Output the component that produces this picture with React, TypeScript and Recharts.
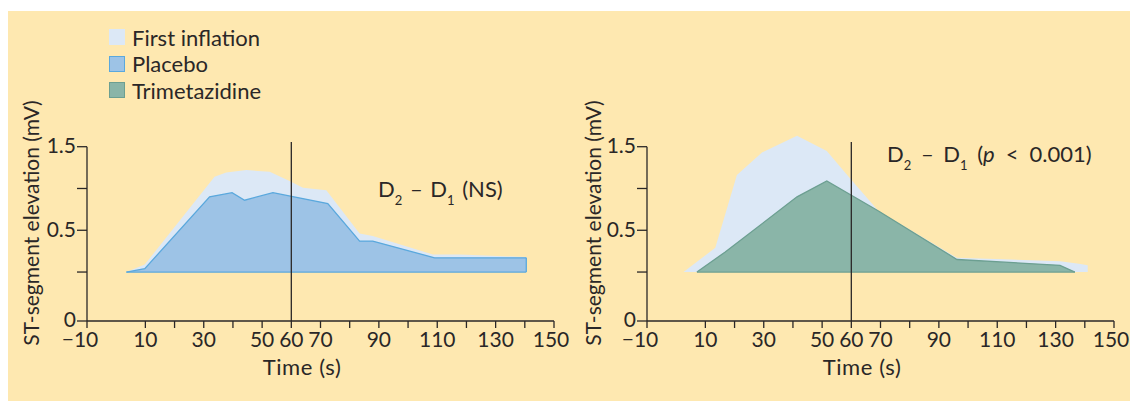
import React from "react";
import {
  ComposedChart,
  Area,
  XAxis,
  YAxis,
  ReferenceLine,
} from "recharts";

// time (s) and ST-segment elevation (mV)
const firstLeftTime = [3.5, 9.8, 33.7, 37.7, 44.6, 52.6, 59.4, 64, 72, 83.4, 87.9, 108.5, 117.6, 140.5];
const firstLeftST = [0, 0.09, 1.14, 1.19, 1.22, 1.2, 1.09, 1.01, 0.98, 0.46, 0.43, 0.21, 0.21, 0.18];

const placeboTime = [3.5, 9.8, 32, 39.7, 44, 53.7, 72.5, 83.4, 87.9, 109.1, 140.5];
const placeboST = [0, 0.04, 0.9, 0.95, 0.86, 0.95, 0.82, 0.37, 0.37, 0.17, 0.17];

const firstRightTime = [2.5, 13.4, 20.8, 29.4, 41.4, 51.6, 59.6, 69.3, 96.2, 131.5, 138, 141];
const firstRightST = [0, 0.29, 1.16, 1.43, 1.63, 1.45, 1.12, 0.73, 0.17, 0.13, 0.1, 0.08];

const trimetazidineTime = [7.1, 16.8, 41.4, 51.6, 69.3, 96.2, 131.5, 136.6];
const trimetazidineST = [0, 0.24, 0.9, 1.09, 0.73, 0.15, 0.08, 0];

const xTicks = [-10, 10, 20, 30, 40, 50, 60, 70, 80, 90, 100, 110, 120, 130, 140, 150];
const xLabels = [-10, 10, 30, 50, 60, 70, 90, 110, 130, 150];
const yBottom = -0.586;
const yTop = 1.7;
const yTicks = [yBottom, 0, 0.5, 1, 1.5];
const yLabels: Record<string, string> = { "0.5": "0.5", "1.5": "1.5" };

const INK = "#2a2727";
const FONT = "Lato, 'Open Sans', sans-serif";
const BG = "#fee8b0";
const FIRST = "#dce8f6";
const PLACEBO = "#9dc3e6";
const PLACEBO_EDGE = "#5aa8dd";
const TMZ = "#8ab5a8";
const TMZ_EDGE = "#6c9f91";

const toRows = (t: number[], v: number[]) => t.map((x, i) => ({ t: x, st: v[i] }));

const XTick = (props: any) => {
  const { x, y, payload } = props;
  const v = payload.value;
  if (!xLabels.includes(v)) return null;
  // the minus hangs left of the tick; the last label sits a little inside the edge
  const shift = v < 0 ? -7 : v === 150 ? -3 : 0;
  return (
    <text x={x} y={y} dy="0.71em" dx={shift} textAnchor="middle" fill={INK} fontSize={21} fontFamily={FONT}>
      {v < 0 ? `\u2212${Math.abs(v)}` : v}
    </text>
  );
};

const yFmt = (v: number) => (v === yBottom ? "0" : yLabels[String(v)] ?? "");

type Panel = {
  back: { t: number; st: number }[];
  front: { t: number; st: number }[];
  fill: string;
  edge: string;
};

function StPanel({ back, front, fill, edge }: Panel) {
  const first = front[0];
  const last = front[front.length - 1];
  return (
    <ComposedChart width={580} height={390} margin={{ top: 119, right: 34, bottom: 40, left: 0 }}>
      <XAxis
        type="number"
        dataKey="t"
        domain={[-10, 150]}
        ticks={xTicks}
        interval={0}
        tick={<XTick />}
        tickSize={7}
        tickMargin={4}
        height={40}
        stroke={INK}
        strokeWidth={1.3}
        allowDataOverflow
      />
      <YAxis
        type="number"
        domain={[yBottom, yTop]}
        ticks={yTicks}
        interval={0}
        tickFormatter={yFmt}
        tickSize={10}
        tickMargin={1}
        width={79}
        axisLine={false}
        stroke={INK}
        strokeWidth={1.3}
        tick={{ fill: INK, fontSize: 21, fontFamily: FONT, dy: -1 }}
        allowDataOverflow
      />
      <Area data={back} dataKey="st" type="linear" fill={FIRST} fillOpacity={1} stroke="none" isAnimationActive={false} />
      <Area data={front} dataKey="st" type="linear" fill={fill} fillOpacity={1} stroke={edge} strokeWidth={1.3} isAnimationActive={false} />
      <ReferenceLine segment={[{ x: first.t, y: 0 }, { x: last.t, y: 0 }]} stroke={edge} strokeWidth={1.3} />
      {last.st > 0 && (
        <ReferenceLine segment={[{ x: last.t, y: 0 }, { x: last.t, y: last.st }]} stroke={edge} strokeWidth={1.3} />
      )}
      <ReferenceLine segment={[{ x: -10, y: yBottom }, { x: -10, y: 1.5 }]} stroke={INK} strokeWidth={1.3} />
      <ReferenceLine segment={[{ x: 60, y: yBottom }, { x: 60, y: 1.555 }]} stroke={INK} strokeWidth={1.3} />
    </ComposedChart>
  );
}

const txt: React.CSSProperties = {
  position: "absolute",
  color: INK,
  fontFamily: FONT,
  fontSize: 21,
  lineHeight: "21px",
  whiteSpace: "nowrap",
};

const note: React.CSSProperties = { ...txt, fontSize: 22, lineHeight: "22px", wordSpacing: 4 };
const sub: React.CSSProperties = { fontSize: 13, position: "relative", top: 8 };

function YTitle({ cx }: { cx: number }) {
  return (
    <div style={{ ...txt, left: cx, top: 212, transform: "translate(-50%, -50%) rotate(-90deg)" }}>
      ST-segment elevation (mV)
    </div>
  );
}

function XTitle({ cx }: { cx: number }) {
  return (
    <div style={{ ...txt, fontSize: 22, letterSpacing: 0.6, left: cx, top: 355, transform: "translate(-50%, -50%)" }}>
      Time (s)
    </div>
  );
}

const legend = [
  { name: "First inflation", fill: FIRST, edge: FIRST },
  { name: "Placebo", fill: PLACEBO, edge: PLACEBO_EDGE },
  { name: "Trimetazidine", fill: TMZ, edge: TMZ_EDGE },
];

export default function App() {
  return (
    <div style={{ position: "absolute", left: 8, top: 11, width: 1122, height: 390, background: BG, overflow: "hidden" }}>
      <div style={{ position: "absolute", left: 0, top: 0 }}>
        <StPanel back={toRows(firstLeftTime, firstLeftST)} front={toRows(placeboTime, placeboST)} fill={PLACEBO} edge={PLACEBO_EDGE} />
      </div>
      <div style={{ position: "absolute", left: 560, top: 0 }}>
        <StPanel back={toRows(firstRightTime, firstRightST)} front={toRows(trimetazidineTime, trimetazidineST)} fill={TMZ} edge={TMZ_EDGE} />
      </div>

      {legend.map((l, i) => (
        <div
          key={l.name}
          style={{ position: "absolute", left: 101, top: 15.5 + i * 26.5, height: 21, display: "flex", alignItems: "center" }}
        >
          <div style={{ width: 14, height: 14, background: l.fill, border: `1px solid ${l.edge}` }} />
          <div style={{ ...txt, fontSize: 22, position: "relative", marginLeft: 7 }}>{l.name}</div>
        </div>
      ))}

      <YTitle cx={22} />
      <YTitle cx={584} />
      <XTitle cx={294} />
      <XTitle cx={854} />

      <div style={{ ...note, wordSpacing: 2, left: 370, top: 167 }}>
        D<span style={sub}>2</span> – D<span style={sub}>1</span> (NS)
      </div>
      <div style={{ ...note, left: 879, top: 132 }}>
        D<span style={sub}>2</span> – D<span style={sub}>1</span> (<i>p</i>{"\u2002<\u2002"}0.001)
      </div>
    </div>
  );
}
